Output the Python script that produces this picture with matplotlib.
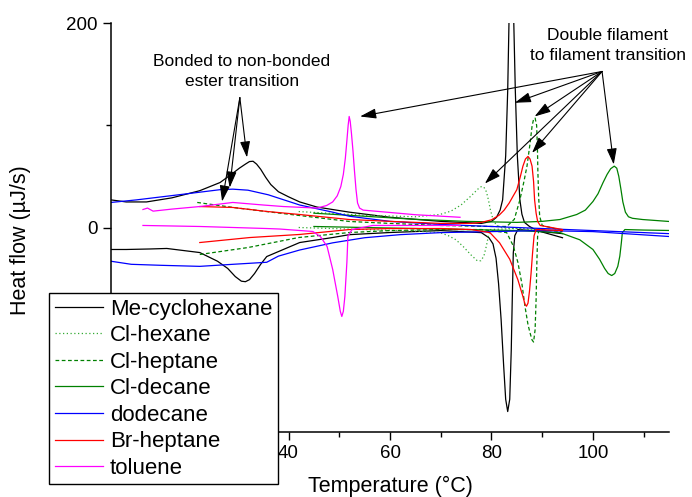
import numpy as np
import matplotlib
matplotlib.use("Agg")
import matplotlib.pyplot as plt

plt.rcParams.update({
    "font.family": ["Liberation Sans", "DejaVu Sans"],
    "font.size": 13,
    "xtick.direction": "out",
    "ytick.direction": "out",
})

# ── data (temperature °C, heat flow µJ/s), heating / cooling ─────────
mecyc_heat_T = [5, 8, 12, 17, 22.5, 26.5, 29, 30.3, 31.5, 32.3, 33, 33.7, 34.5, 35.5, 36.5, 38,
                40, 42.2, 45.6, 52, 60, 70, 78, 80, 81, 81.7, 82.2, 82.8, 83.2, 83.45, 83.9,
                84.4, 84.7, 85.1, 85.6, 86, 86.5, 87.5, 89, 94]
mecyc_heat_H = [27, 25, 25, 29, 36, 44, 53, 58, 62, 64.5, 64.8, 62, 57, 49, 42, 35,
                30, 25, 20, 15, 10, 6, 4, 6, 10, 17, 27, 70, 134, 200, 400,
                200, 134, 70, 27, 13, 5, 1, -3, -10]
mecyc_cool_T = [5, 8, 12.7, 16, 22.5, 26, 28, 29.5, 30.7, 31.5, 32.3, 33.3, 34.5, 35.7, 42.2,
                48.7, 52, 60, 70, 78, 79.5, 80.3, 80.9, 81.4, 81.9, 82.4, 82.8, 83.2, 83.6,
                83.9, 84.1, 84.3, 84.6, 85.2, 88, 94]
mecyc_cool_H = [-21.5, -21.5, -21, -20.5, -24.5, -33, -40, -48, -52.5, -53, -51, -45, -36, -28.4,
                -14.7, -9.8, -7, -4.9, -3, -5, -10, -16, -30, -55, -90, -135, -168, -180, -168,
                -120, -70, -25, -8, -2, -3, -6]

clhex_heat_T = [42, 55, 65, 69.8, 72, 74, 76, 77.3, 78, 78.5, 79, 79.4, 79.8, 80.3, 81, 82, 85, 90]
clhex_heat_H = [15.6, 12, 10.5, 12.7, 16, 22, 31, 37.5, 40, 39.5, 35, 27, 17, 8, 2, 0, -1, -2]
clhex_cool_T = [42, 55, 65, 69.8, 71.5, 73, 74.5, 76, 77.2, 77.9, 78.5, 79, 79.4, 79.8, 85, 90]
clhex_cool_H = [0, -2, -3.5, -4.9, -8, -12, -19, -27, -32.5, -32.5, -28, -18, -8, -2, -1, -3]

clhep_heat_T = [22, 30, 40, 52, 60, 70, 80, 83, 84.5, 85.6, 86.4, 87, 87.6, 88, 88.3, 88.6,
                88.9, 89.05, 89.15, 89.3, 89.5, 90, 94]
clhep_heat_H = [24.5, 19, 13, 5.9, 4, 2, 1, 1, 8, 27, 45, 60, 82, 99, 106, 107,
                100, 80, 54, 30, 11, 2, -3]
clhep_cool_T = [22.5, 32, 42, 52, 60, 70, 78, 83, 84.3, 85.2, 86, 86.6, 87.2, 87.6, 88, 88.3,
                88.6, 88.8, 88.95, 89.1, 89.4, 94]
clhep_cool_H = [-26.4, -19.6, -9.8, -4.9, -3, -2, -2, -5, -18, -34, -55, -77, -95, -103, -110,
                -112, -100, -70, -34, -8, -2, -4]

cldec_heat_T = [45, 55, 65, 75, 85, 90, 93.5, 96.8, 98.5, 100, 101, 102, 102.8, 103.5, 104.2,
                104.7, 105.1, 105.5, 105.9, 106.4, 107, 107.8, 109.8, 115]
cldec_heat_H = [14, 11, 8, 6, 5, 6, 7.8, 12.7, 17, 25.4, 33, 44, 52, 57.5, 60,
                58, 50, 38, 25, 15, 10.5, 9, 7.8, 5.9]
cldec_cool_T = [45, 55, 65, 75, 85, 93.5, 97.4, 100, 101.3, 102.3, 103, 103.7, 104.3, 104.9,
                105.3, 105.6, 105.8, 106.3, 110, 115]
cldec_cool_H = [1, 0, -1, -2, -3, -5, -12, -21.5, -31, -40, -45, -47, -45, -38,
                -28, -15, -5, -2, -2.5, -2.9]

dodec_heat_T = [5, 10, 15, 20, 26.5, 29, 32, 36, 42.2, 48.7, 52, 60, 70, 80, 90, 100, 115]
dodec_heat_H = [24.5, 27, 30, 33, 37, 37.5, 36.5, 32, 22, 15, 11, 6, 3, 1, -1, -3, -6]
dodec_cool_T = [5, 9, 15, 22.5, 29, 35.7, 38, 42.2, 48.7, 55, 62, 70, 80, 90, 100, 115]
dodec_cool_H = [-33, -36, -37, -38, -36, -34, -28, -22, -15, -10, -7, -5, -4, -3, -4, -8.8]

brhep_heat_T = [22.5, 29, 35.7, 42.2, 52, 60, 70, 76, 78, 80, 81.5, 82.5, 83.5, 84.3, 85, 85.7,
                86.2, 86.7, 87.2, 87.6, 88, 88.3, 88.5, 88.8, 89.1, 89.6, 94]
brhep_heat_H = [20.5, 19.6, 15.7, 12.7, 7.8, 6, 4, 4, 5, 7.5, 12, 17, 24, 31, 37, 50,
                60, 67, 69.5, 67, 60, 45, 27, 14, 6, 2, -2]
brhep_cool_T = [22.5, 32.4, 42.2, 52, 60, 70, 76, 79.7, 81.6, 83.6, 85.2, 86.2, 86.6, 86.9,
                87.2, 87.5, 87.8, 88.1, 88.4, 88.8, 94]
brhep_cool_H = [-14.7, -9.8, -6.8, -2, -1, -1, -2, -5, -15, -31, -51, -67.5, -75, -77,
                -74, -62, -45, -25, -8, -2, -3]

tol_heat_T = [11.3, 12.2, 13.3, 17, 22.5, 29, 35, 39, 45.6, 47.5, 48.7, 49.6, 50.3, 50.8, 51.2,
              51.5, 51.75, 51.95, 52.15, 52.4, 52.7, 53.0, 53.3, 53.6, 54.0, 54.7, 60, 65, 73.8]
tol_heat_H = [17.6, 19, 16, 18, 20.5, 24.5, 22, 20.5, 19, 21.5, 25, 31, 40, 52, 68,
              85, 100, 108.6, 104, 92, 75, 55, 37, 24, 19, 17, 14.7, 12.5, 10]
tol_cool_T = [11.3, 22.5, 35.7, 38.3, 44.8, 46.3, 47.6, 48.7, 49.7, 50.2, 50.5, 50.8, 51.1,
              51.5, 51.7, 52.5, 56.6, 65, 73.8]
tol_cool_H = [2, 1, -1, -1.5, -3.9, -9, -18.6, -41, -67.5, -82, -87, -82, -67.5,
              -34, -8.8, -2, 2, 2, 2]

x_major = [20, 40, 60, 80, 100]
x_labels = ["", "40", "60", "80", "100"]   # "20" sits under the legend
y_major = [-200, 0, 200]
y_labels = ["", "0", "200"]                # "-200" sits under the legend

# ── styles ───────────────────────────────────────────────────────────
series = [
    ("Me-cyclohexane", mecyc_heat_T, mecyc_heat_H, mecyc_cool_T, mecyc_cool_H,
     dict(color="black", ls="-")),
    ("Cl-hexane", clhex_heat_T, clhex_heat_H, clhex_cool_T, clhex_cool_H,
     dict(color="#33aa33", ls=(0, (1, 2)))),
    ("Cl-heptane", clhep_heat_T, clhep_heat_H, clhep_cool_T, clhep_cool_H,
     dict(color="#008000", ls=(0, (3, 2)))),
    ("Cl-decane", cldec_heat_T, cldec_heat_H, cldec_cool_T, cldec_cool_H,
     dict(color="#008000", ls="-")),
    ("dodecane", dodec_heat_T, dodec_heat_H, dodec_cool_T, dodec_cool_H,
     dict(color="#0000ff", ls="-")),
    ("Br-heptane", brhep_heat_T, brhep_heat_H, brhep_cool_T, brhep_cool_H,
     dict(color="#ff0000", ls="-")),
    ("toluene", tol_heat_T, tol_heat_H, tol_cool_T, tol_cool_H,
     dict(color="#ff00ff", ls="-")),
]

fig = plt.figure(figsize=(6.92, 4.97), dpi=100)
ax = fig.add_axes([0.1604, 0.1308, 0.8064, 0.8229])

for name, hT, hH, cT, cH, st in series:
    ax.plot(hT, hH, lw=0.9, label=name, **st)
    ax.plot(cT, cH, lw=0.9, **st)

ax.set_xlim(5, 115)
ax.set_ylim(-200, 200)
ax.set_xticks(x_major)
ax.set_xticklabels(x_labels)
ax.set_xticks(np.arange(10, 115, 10), minor=True)
ax.set_yticks(y_major)
ax.set_yticklabels(y_labels)
ax.set_yticks([-100, 100], minor=True)
ax.tick_params(which="major", length=6, width=1, labelsize=13.5)
ax.tick_params(which="minor", length=3.5, width=1)
ax.spines[["top", "right"]].set_visible(False)
ax.spines[["left", "bottom"]].set_linewidth(1.1)

ax.set_xlabel("Temperature (°C)", fontsize=15.5)
ax.xaxis.set_label_coords(0.5, -0.108)
ax.set_ylabel("Heat flow (µJ/s)", fontsize=15.5)
ax.yaxis.set_label_coords(-0.143, 0.47)

# ── annotations ──────────────────────────────────────────────────────
ax.text(30.8, 152.6, "Bonded to non-bonded\nester transition", ha="center", va="center",
        fontsize=12.5, linespacing=1.4)
ax.text(102.9, 178, "Double filament\nto filament transition", ha="center", va="center",
        fontsize=12.5, linespacing=1.4)

aprops = dict(arrowstyle="-|>,head_length=0.7,head_width=0.22", color="black", lw=0.8,
              shrinkA=0, shrinkB=0, mutation_scale=14)
for tip in [(31.8, 68.5), (28.4, 39), (26.9, 25.4)]:
    ax.annotate("", xy=tip, xytext=(30.4, 127), arrowprops=aprops)
for tip in [(54.1, 108.6), (84.6, 122), (88.5, 108.6), (88.0, 73), (78.7, 43), (104.1, 61.6)]:
    ax.annotate("", xy=tip, xytext=(101.8, 152.6), arrowprops=aprops)

leg = ax.legend(loc="upper left", bbox_to_anchor=(49 / 692, 1 - 293 / 497),
                bbox_transform=fig.transFigure, borderaxespad=0, fontsize=16,
                handlelength=2.2, handletextpad=0.3, labelspacing=0.25,
                borderpad=0.25, fancybox=False, framealpha=1, edgecolor="black")
leg.get_frame().set_linewidth(1.0)

plt.savefig("out.png", dpi=100, facecolor="white")
